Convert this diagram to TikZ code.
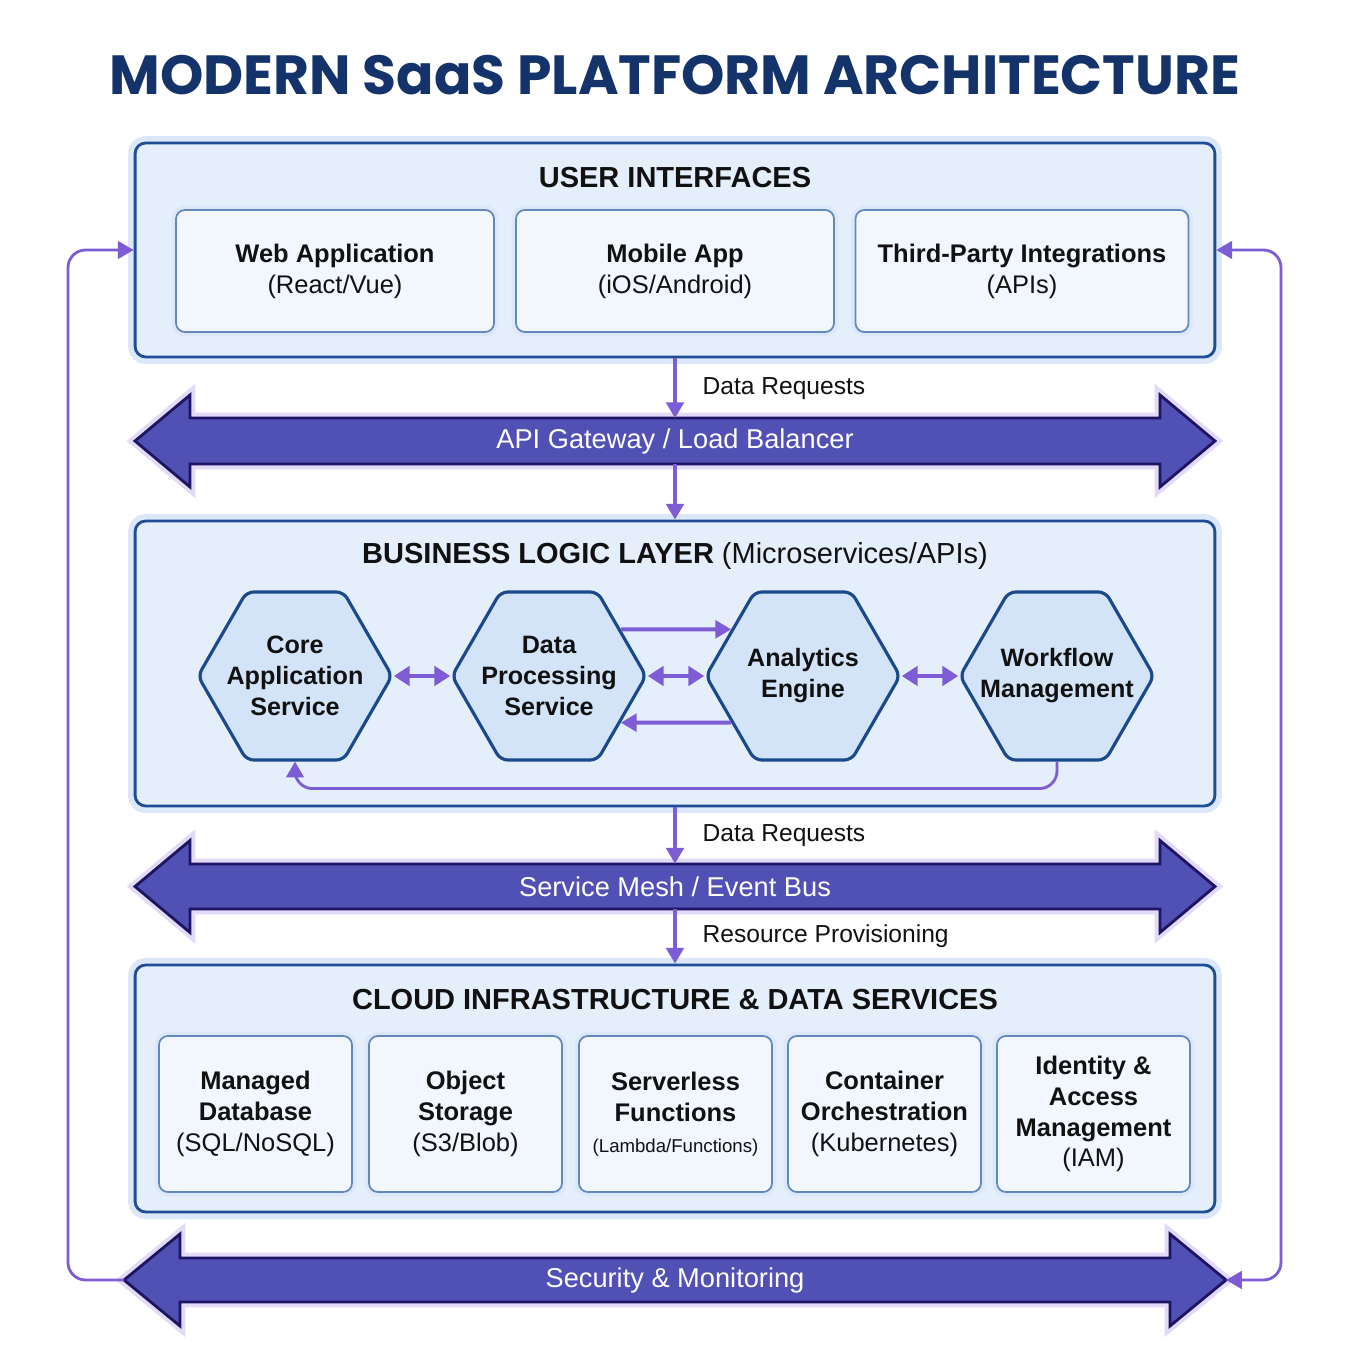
\documentclass[tikz,border=0pt]{standalone}
\usepackage{fontspec}
\setmainfont{Liberation Sans}
\newfontfamily\titlefont{Poppins}
\usepackage{tikz}
\usetikzlibrary{shapes.geometric, arrows.meta, positioning, calc}

\definecolor{navy}{HTML}{14336B}
\definecolor{panelline}{HTML}{1F4E96}
\definecolor{panelfill}{HTML}{E5EEFB}
\definecolor{panelglow}{HTML}{DCE8FA}
\definecolor{boxfill}{HTML}{F2F6FD}
\definecolor{boxline}{HTML}{6388BC}
\definecolor{hexfill}{HTML}{D3E3F8}
\definecolor{hexline}{HTML}{1A4A8C}
\definecolor{flow}{HTML}{7D5CD6}
\definecolor{busfill}{HTML}{5151B5}
\definecolor{busline}{HTML}{1D1563}
\definecolor{busglow}{HTML}{E3D9F8}
\definecolor{ink}{HTML}{111111}

\begin{document}
\begin{tikzpicture}[
  x=0.02cm, y=0.02cm,
  every node/.style={align=center, text=ink},
  panel/.style={rectangle, rounded corners=6pt, draw=panelline, line width=1.6pt, fill=panelfill,
    preaction={draw=panelglow, line width=8pt}, minimum width=21.6cm},
  paneltitle/.style={font=\fontsize{16.5}{20}\selectfont\bfseries},
  card/.style={rectangle, rounded corners=5pt, draw=boxline, line width=1pt, fill=boxfill,
    preaction={draw=panelglow, line width=5pt}, font=\fontsize{14.5}{17.6}\selectfont},
  service/.style={regular polygon, regular polygon sides=6, minimum size=3.88cm, inner sep=-1cm,
    rounded corners=4pt, draw=hexline, line width=1.8pt, fill=hexfill,
    font=\fontsize{14.3}{17.6}\selectfont\bfseries},
  busarrow/.style={fill=busfill, draw=busline, line width=1.6pt, line join=miter,
    preaction={draw=busglow, line width=6pt}},
  bustext/.style={text=white, font=\fontsize{15.5}{18}\selectfont, inner sep=0pt, minimum height=0.9cm},
  flowarrow/.style={-{Triangle[length=9pt, width=10pt]}, flow, line width=2pt},
  twoway/.style={{Triangle[length=9pt, width=11pt]}-{Triangle[length=9pt, width=11pt]}, flow, line width=2.2pt},
  flowlabel/.style={font=\fontsize{14}{16}\selectfont, anchor=west}
]

% Canvas
\fill[white] (0,0) rectangle (1350,1350);

% Title
\node[font=\titlefont\bfseries\fontsize{31.4}{36}\selectfont, text=navy] (title) at (675,1275)
  {MODERN SaaS PLATFORM ARCHITECTURE};

% User interfaces
\node[panel, minimum height=4.28cm] (ui) at (675,1100) {};
\node[paneltitle] (uit) at (675,1172) {USER INTERFACES};
\node[card, minimum width=6.36cm, minimum height=2.44cm] (web) at (335,1079)
  {\textbf{Web Application}\\(React/Vue)};
\node[card, minimum width=6.36cm, minimum height=2.44cm] (mob) at (675,1079)
  {\textbf{Mobile App}\\(iOS/Android)};
\node[card, minimum width=6.66cm, minimum height=2.44cm] (tpi) at (1022,1079)
  {\textbf{Third-Party Integrations}\\(APIs)};

% API gateway arrow
\draw[busarrow] (135,909) -- (190,955) -- (190,932) -- (1160,932) -- (1160,955) -- (1215,909)
  -- (1160,863) -- (1160,886) -- (190,886) -- (190,863) -- cycle;
\node[bustext] (gw) at (675,909) {API Gateway / Load Balancer};

% Business logic
\node[panel, minimum height=5.7cm] (biz) at (675,686.5) {};
\node[paneltitle] (bizt) at (675,794) {BUSINESS LOGIC LAYER \mdseries(Microservices/APIs)};
\node[service] (core) at (295,674) {Core\\Application\\Service};
\node[service] (dps) at (549,674) {Data\\Processing\\Service};
\node[service] (ana) at (803,674) {Analytics\\Engine};
\node[service] (wf) at (1057,674) {Workflow\\Management};

\draw[twoway] (core.east) -- (dps.west);
\draw[twoway] (dps.east) -- (ana.west);
\draw[twoway] (ana.east) -- (wf.west);
\draw[flowarrow, line width=2.2pt] (dps.33) -- (ana.147);
\draw[flowarrow, line width=2.2pt] (ana.213) -- (dps.-33);
\draw[flowarrow, line width=1.6pt, rounded corners=10pt] (wf.south) -- ++(0,-27) -| (core.south);

% Service mesh arrow
\draw[busarrow] (135,463.5) -- (190,509.5) -- (190,486) -- (1160,486) -- (1160,509.5) -- (1215,463.5)
  -- (1160,417.5) -- (1160,441) -- (190,441) -- (190,417.5) -- cycle;
\node[bustext] (sm) at (675,463.5) {Service Mesh / Event Bus};

% Cloud infrastructure
\node[panel, minimum height=4.94cm] (cloud) at (675,261.5) {};
\node[paneltitle] (cloudt) at (675,350) {CLOUD INFRASTRUCTURE \& DATA SERVICES};
\node[card, minimum width=3.86cm, minimum height=3.12cm] (db) at (255.5,236)
  {\textbf{Managed}\\\textbf{Database}\\(SQL/NoSQL)};
\node[card, minimum width=3.86cm, minimum height=3.12cm] (obj) at (465.5,236)
  {\textbf{Object}\\\textbf{Storage}\\(S3/Blob)};
\node[card, minimum width=3.86cm, minimum height=3.12cm] (fn) at (675.5,236)
  {\textbf{Serverless}\\\textbf{Functions}\\{\fontsize{10.6}{12}\selectfont(Lambda/Functions)}};
\node[card, minimum width=3.86cm, minimum height=3.12cm] (k8s) at (884.5,236)
  {\textbf{Container}\\\textbf{Orchestration}\\(Kubernetes)};
\node[card, minimum width=3.86cm, minimum height=3.12cm] (iam) at (1093.5,236)
  {\textbf{Identity \&}\\\textbf{Access}\\\textbf{Management}\\(IAM)};

% Security arrow
\draw[busarrow] (124,70) -- (180,116) -- (180,92) -- (1170,92) -- (1170,116) -- (1226,70)
  -- (1170,24) -- (1170,48) -- (180,48) -- (180,24) -- cycle;
\node[bustext] (sec) at (675,70) {Security \& Monitoring};
\coordinate (secL) at (124,70);
\coordinate (secR) at (1226,70);

% Vertical flows
\draw[flowarrow] (ui.south) -- (gw.north)
  node[flowlabel, pos=0.5, xshift=0.4cm] {Data Requests};
\draw[flowarrow] (gw.south) -- (biz.north);
\draw[flowarrow] (biz.south) -- (sm.north)
  node[flowlabel, pos=0.5, xshift=0.4cm] {Data Requests};
\draw[flowarrow] (sm.south) -- (cloud.north)
  node[flowlabel, pos=0.5, xshift=0.4cm] {Resource Provisioning};

% Side loops
\draw[flowarrow, line width=1.6pt, rounded corners=10pt] (secL) -- ++(-56,0) |- (ui.west);
\draw[{Triangle[length=9pt, width=10pt]}-{Triangle[length=9pt, width=10pt]}, flow, line width=1.6pt,
  rounded corners=10pt] (secR) -- ++(55,0) |- (ui.east);

\end{tikzpicture}
\end{document}
